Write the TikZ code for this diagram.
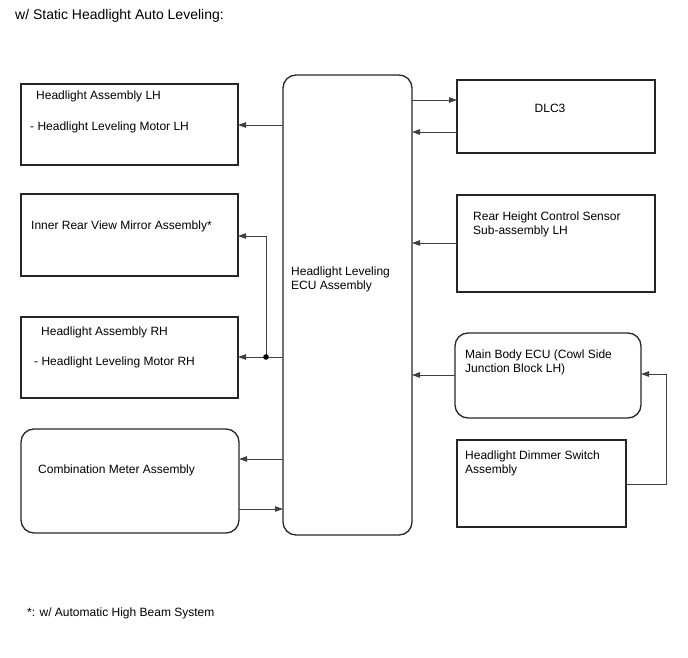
\documentclass[tikz,border=0pt]{standalone}
\usepackage{fontspec}
\setmainfont{Liberation Sans}
\usetikzlibrary{arrows.meta}
\usetikzlibrary{positioning}

\begin{document}
\begin{tikzpicture}[x=1pt, y=-1pt, >={Triangle[length=8pt,width=5.5pt]},
  blk/.style={draw=black!85, line width=1.3pt, anchor=north west, inner sep=0pt, outer sep=0pt},
  rblk/.style={blk, rounded corners=13pt},
  lbl/.style={anchor=north west, inner sep=0pt, align=left, font=\fontsize{12}{14}\selectfont},
  conn/.style={->, draw=black!75, line width=0.9pt}]

  \useasboundingbox (0,0) rectangle (688,658);

  % title and footnote
  \node[lbl, font=\fontsize{14}{16}\selectfont] (ttl) at (15,9) {w/ Static Headlight Auto Leveling:};
  \node[lbl] (note) at (27,607.5) {*: w/ Automatic High Beam System};

  % central ECU
  \node[rblk, minimum width=129pt, minimum height=460pt] (ecu) at (283,75) {};
  \node[lbl] (ecuA) at (291,266.5) {Headlight Leveling\\ECU Assembly};

  % left column boxes
  \node[blk, minimum width=217pt, minimum height=81pt] (lhA) at (21,84) {};
  \node[lbl] (lhAa) at (36,91) {Headlight Assembly LH};
  \node[lbl] (lhAb) at (30,122) {- Headlight Leveling Motor LH};

  \node[blk, minimum width=217pt, minimum height=82pt] (mir) at (21,194) {};
  \node[lbl] (mirA) at (31,220.5) {Inner Rear View Mirror Assembly*};

  \node[blk, minimum width=217pt, minimum height=81pt] (rhA) at (21,317) {};
  \node[lbl] (rhAa) at (41,326.5) {Headlight Assembly RH};
  \node[lbl] (rhAb) at (34,357) {- Headlight Leveling Motor RH};

  \node[rblk, minimum width=218pt, minimum height=104pt] (cmb) at (21,429) {};
  \node[lbl] (cmbA) at (38,464.5) {Combination Meter Assembly};

  % right column boxes
  \node[blk, minimum width=198pt, minimum height=73pt] (dlc) at (457,80) {};
  \node[font=\fontsize{12}{14}\selectfont, inner sep=0pt] (dlcA) at (550,108.5) {DLC3};

  \node[blk, minimum width=198pt, minimum height=97pt] (rhs) at (457,195) {};
  \node[lbl] (rhsA) at (473,212) {Rear Height Control Sensor\\Sub-assembly LH};

  \node[rblk, minimum width=186pt, minimum height=85pt] (mbe) at (455,333) {};
  \node[lbl] (mbeA) at (465,349.5) {Main Body ECU (Cowl Side\\Junction Block LH)};

  \node[blk, minimum width=169pt, minimum height=87pt] (dim) at (457,440) {};
  \node[lbl] (dimA) at (465,450.5) {Headlight Dimmer Switch\\Assembly};

  % connectors, left side
  \draw[conn] (ecu.west |- 0,125) -- (lhA.east |- 0,125);
  \coordinate (jn) at (266,357);
  \draw[conn] (ecu.west |- jn) -- (rhA.east |- jn);
  \draw[conn] (jn) |- (mir.east |- 0,236);
  \fill (jn) circle (2.8pt);
  \draw[conn] (ecu.west |- 0,459) -- (cmb.east |- 0,459);
  \draw[conn] (cmb.east |- 0,509) -- (ecu.west |- 0,509);

  % connectors, right side
  \draw[conn] (ecu.east |- 0,100) -- (dlc.west |- 0,100);
  \draw[conn] (dlc.west |- 0,132) -- (ecu.east |- 0,132);
  \draw[conn] (rhs.west |- 0,243) -- (ecu.east |- 0,243);
  \draw[conn] (mbe.west |- 0,375) -- (ecu.east |- 0,375);
  \coordinate (bend) at (666,484);
  \draw[conn] (dim.east |- bend) -- (bend) |- (mbe.east |- 0,374);
\end{tikzpicture}
\end{document}
